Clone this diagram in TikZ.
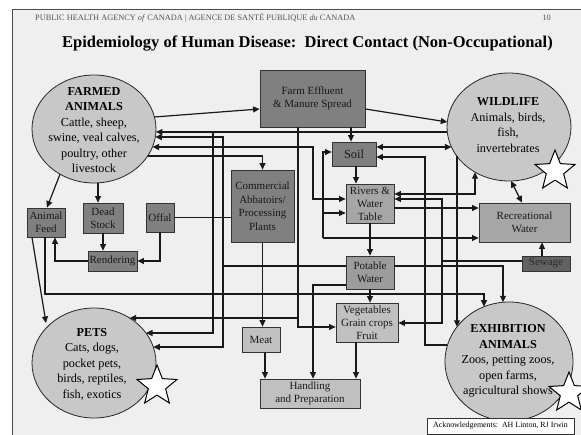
\documentclass[tikz,border=0pt]{standalone}
\usepackage{fontspec}
\setmainfont{Liberation Serif}
\usetikzlibrary{arrows.meta,shapes.geometric,calc}
\definecolor{bgc}{HTML}{EFEFEF}
\definecolor{dkbox}{HTML}{808080}
\definecolor{mdbox}{HTML}{A6A6A6}
\definecolor{ptbox}{HTML}{9C9C9C}
\definecolor{ltbox}{HTML}{C0C0C0}
\definecolor{sewbox}{HTML}{626262}
\definecolor{sewtxt}{HTML}{2A2A2A}
\definecolor{ellc}{HTML}{C8C8C8}
\definecolor{hdr}{HTML}{555555}
\begin{document}
\begin{tikzpicture}[x=1pt,y=-1pt,
  conn/.style={line width=1.2pt, draw=black!90},
  arr/.style={conn,-{Triangle[length=6.5pt,width=6pt]}},
  darr/.style={conn,{Triangle[length=6.5pt,width=6pt]}-{Triangle[length=6.5pt,width=6pt]}},
  box/.style={draw=black!80, line width=0.8pt, inner sep=0pt, align=center,
              font=\fontsize{11}{13}\selectfont, text=black!90},
  dbox/.style={box, fill=dkbox},
  mbox/.style={box, fill=mdbox},
  pbox/.style={box, fill=ptbox},
  lbox/.style={box, fill=ltbox},
  sbox/.style={box, fill=sewbox, text=sewtxt},
  ell/.style={ellipse, draw=black!85, line width=0.8pt, fill=ellc, inner sep=0pt},
  etext/.style={align=center, inner sep=0pt, font=\fontsize{12.2}{15.5}\selectfont},
  starsh/.style={star, star points=5, star point ratio=2.3, minimum size=42pt,
                 draw=black, line width=1pt, fill=white, inner sep=0pt}
]
\useasboundingbox (0,0) rectangle (581,435);
\fill[white] (0,0) rectangle (581,435);
\fill[bgc] (12,10) rectangle (581,435);
\draw[black!70, line width=1pt] (581,10) -- (12,10) -- (12,435);

% header
\node[anchor=west, text=hdr, font=\fontsize{8.3}{10}\selectfont, inner sep=0pt] (hd) at (35,18)
  {PUBLIC HEALTH AGENCY \textit{of} CANADA | AGENCE DE SANTÉ PUBLIQUE \textit{du} CANADA};
\node[anchor=east, text=hdr, font=\fontsize{8.3}{10}\selectfont, inner sep=0pt] (pg) at (551,18) {10};
\node[font=\bfseries\fontsize{16.5}{18}\selectfont, inner sep=0pt] (title) at (307.5,44)
  {Epidemiology of Human Disease:\ \ Direct Contact (Non-Occupational)};

% boxes
\node[dbox, minimum width=105pt, minimum height=57pt] (eff) at (312.5,98.5) {Farm Effluent\\\& Manure Spread};
\node[dbox, minimum width=44pt, minimum height=24pt, font=\fontsize{12.4}{13}\selectfont] (soil) at (354,154) {Soil};
\node[mbox, minimum width=48pt, minimum height=39pt] (riv) at (370,203.5) {Rivers \&\\Water\\Table};
\node[mbox, minimum width=91pt, minimum height=39pt] (rec) at (524.5,222.5) {Recreational\\Water};
\node[sbox, minimum width=48pt, minimum height=15pt] (sew) at (546,263.5) {Sewage};
\node[pbox, minimum width=48pt, minimum height=33pt] (pot) at (370,272.5) {Potable\\Water};
\node[lbox, minimum width=62pt, minimum height=39pt] (veg) at (367,322.5) {Vegetables\\Grain crops\\Fruit};
\node[lbox, minimum width=38pt, minimum height=25pt] (meat) at (261,339.5) {Meat};
\node[lbox, minimum width=100pt, minimum height=29pt] (hand) at (310,393.5) {Handling\\and Preparation};
\node[dbox, minimum width=63pt, minimum height=72pt, font=\fontsize{11}{13.5}\selectfont] (com) at (262.5,206) {Commercial\\Abbatoirs/\\Processing\\Plants};
\node[dbox, minimum width=28pt, minimum height=29pt] (offal) at (160,217.5) {Offal};
\node[dbox, minimum width=40pt, minimum height=30pt] (dead) at (103,218) {Dead\\Stock};
\node[dbox, minimum width=38pt, minimum height=29pt] (feed) at (46,222.5) {Animal\\Feed};
\node[dbox, minimum width=49pt, minimum height=20pt] (rend) at (112.5,261) {Rendering};

% ellipses
\node[ell, minimum width=124pt, minimum height=108pt] (fa) at (94,129) {};
\node[etext] (fat) at (94,130) {\textbf{FARMED}\\\textbf{ANIMALS}\\Cattle, sheep,\\swine, veal calves,\\poultry, other\\livestock};
\node[ell, minimum width=124pt, minimum height=108pt] (wl) at (509,127) {};
\node[etext] (wlt) at (508,125) {\textbf{WILDLIFE}\\Animals, birds,\\fish,\\invertebrates};
\node[ell, minimum width=124pt, minimum height=110pt] (pets) at (94,363) {};
\node[etext] (petst) at (92,364) {\textbf{PETS}\\Cats, dogs,\\pocket pets,\\birds, reptiles,\\fish, exotics};
\node[ell, minimum width=128pt, minimum height=119pt] (ex) at (509,361.5) {};
\node[etext] (ext) at (508,361) {\textbf{EXHIBITION}\\\textbf{ANIMALS}\\Zoos, petting zoos,\\open farms,\\agricultural shows};

% stars
\node[starsh] (s1) at (555,171) {};
\node[starsh] (s2) at (157,386) {};
\node[starsh] (s3) at (569,393) {};

% acknowledgements
\node[draw=black!80, line width=0.6pt, fill=white, inner sep=0pt, minimum width=147pt, minimum height=16pt,
      font=\fontsize{7.9}{9}\selectfont] (ack) at (500.5,426) {Acknowledgements:\ \ AH Linton, RJ Irwin};

% connectors
\draw[arr] ($(fa.center)+(60.4,-12)$) -- ($(eff.west)+(0,10.5)$);
\draw[arr] ($(eff.east)+(0,10.5)$) -- ($(wl.center)+(-61.7,-5)$);
\draw[arr] ($(wl.center)+(-61.7,5)$) -- ($(fa.center)+(61.9,3)$);
\draw[arr] (213,132) -- (213,333) -- ($(pets.center)+(52,-30)$);
\coordinate (j223) at (223,266);
\draw[conn] ($(pot.west)+(0,-6.5)$) -- (j223);
\draw[arr] (j223) -- (223,137) -- ($(fa.center)+(61.3,8)$);
\draw[arr] (j223) -- (223,347) -- ($(pets.center)+(59.3,-16)$);
\draw[darr] ($(fa.center)+(58.5,18)$) -- (313,147) -- (313,199) -- ($(riv.west)+(0,-4.5)$);
\draw[arr] ($(fa.center)+(53.7,27)$) -| (com.north);
\draw[arr] ($(fa.center)+(4,53.9)$) -- ($(dead.north)+(-5,0)$);
\draw[arr] ($(fa.center)+(-34,45.2)$) -- ($(feed.north)+(1,0)$);
\draw[arr] (dead.south) -- (dead.south |- rend.north);
\draw[arr] (offal.south) |- (rend.east);
\draw[arr] (rend.west) -| ($(feed.south)+(9,0)$);
\draw[conn] (offal.east) -- (offal.east -| com.west);
\draw[arr] ($(feed.south)+(-14,0)$) -- ($(pets.center)+(-48,-40)$);
\draw[arr] ($(feed.south)+(-1,0)$) -- (45,294) -- (484,294) -- ($(ex.center)+(-25,-54.8)$);
\draw[arr] ($(eff.south)+(38.5,0)$) -- ($(soil.north)+(-3,0)$);
\coordinate (j298) at (298,318);
\draw[arr] ($(eff.south)+(-14.5,0)$) -- (298,327) -- ($(veg.west)+(0,4.5)$);
\draw[arr] (j298) -- ($(pets.center)+(35.7,-45)$);
\draw[arr] ($(soil.south)+(2,0)$) -- ($(riv.north)+(-14,0)$);
\draw[arr] (riv.south) -- (pot.north);
\draw[arr] (pot.south) -- (pot.south |- veg.north);
\coordinate (vs) at ($(veg.south)+(-11,0)$);
\draw[arr] (vs) -- (vs |- hand.north);
\draw[arr] (com.south) -- (com.south |- meat.north);
\coordinate (ms) at ($(meat.south)+(4,0)$);
\draw[arr] (ms) -- (ms |- hand.north);
\draw[arr] ($(pot.west)+(0,12.5)$) -| ($(hand.north)+(3,0)$);
\draw[darr] ($(soil.east)+(0,-7)$) -- ($(wl.center)+(-57.6,20)$);
\draw[arr] ($(ex.center)+(-61.6,-16.5)$) -- (425,345) -- (425,157) -- ($(soil.east)+(0,3)$);
\draw[arr] (323,238) -- (323,152) -- ($(soil.west)+(0,-2)$);
\draw[arr] (323,238) -- ($(rec.west)+(0,15.5)$);
\draw[arr] (323,213) -- ($(riv.west)+(0,9.5)$);
\draw[darr] ($(riv.east)+(0,-9.5)$) -- (475,194) -- ($(wl.center)+(-34,45.2)$);
\coordinate (j442) at (442,261);
\draw[conn] ($(sew.west)+(0,-2.5)$) -- (j442);
\draw[arr] (j442) -- (442,199) -- ($(riv.east)+(0,-4.5)$);
\draw[arr] (j442) -- (442,323) -- ($(veg.east)+(0,0.5)$);
\draw[arr] ($(riv.east)+(0,4.5)$) -- ($(rec.west)+(0,-14.5)$);
\draw[darr] ($(wl.center)+(2,54)$) -- ($(rec.north)+(-2.5,0)$);
\draw[arr] ($(sew.north)+(-4,0)$) -- ($(rec.south)+(17.5,0)$);
\draw[arr] ($(pot.east)+(0,-6.5)$) -- (503,266) -- ($(ex.center)+(-6,-59.2)$);
\draw[arr] ($(wl.center)+(-52,29.4)$) -- ($(ex.center)+(-52,-34.7)$);
\end{tikzpicture}
\end{document}
